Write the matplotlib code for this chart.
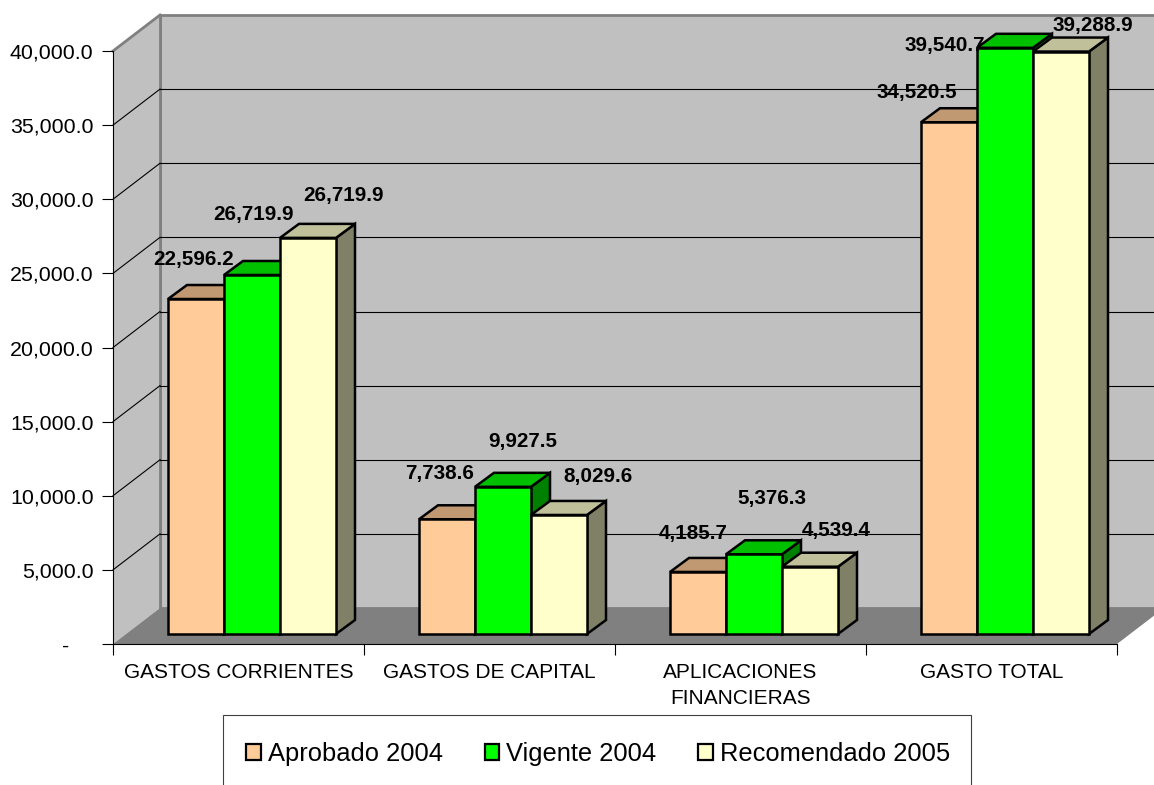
import matplotlib
matplotlib.use('Agg')
import matplotlib.pyplot as plt
from matplotlib.patches import Patch, Polygon, Rectangle

plt.rcParams['font.family'] = ['Liberation Sans', 'DejaVu Sans']

categories = ['GASTOS CORRIENTES', 'GASTOS DE CAPITAL', 'APLICACIONES\nFINANCIERAS', 'GASTO TOTAL']
series_names = ['Aprobado 2004', 'Vigente 2004', 'Recomendado 2005']

# bar heights as drawn in the picture
aprobado = [22596.2, 7738.6, 4185.7, 34520.5]
vigente = [24216.0, 9927.5, 5376.3, 39540.7]
recomendado = [26719.9, 8029.6, 4539.4, 39288.9]

# printed labels (the first green one does not agree with its bar in the original)
aprobado_labels = ['22,596.2', '7,738.6', '4,185.7', '34,520.5']
vigente_labels = ['26,719.9', '9,927.5', '5,376.3', '39,540.7']
recomendado_labels = ['26,719.9', '8,029.6', '4,539.4', '39,288.9']

y_ticks = [0, 5000, 10000, 15000, 20000, 25000, 30000, 35000, 40000]

front_colors = ['#FFCC99', '#00FF00', '#FFFFCC']
top_colors = ['#C09973', '#00C000', '#C0C09A']
side_colors = ['#806650', '#008000', '#808066']

# label offsets from the top centre of each bar, pixels
label_offsets = [
    [(-2, 40), (-7, 46), (-5, 38), (-32, 30)],
    [(1, 60), (20, 45), (18, 56), (-60, 2)],
    [(35, 42), (39, 38), (26, 36), (32, 26)],
]

W, H = 1154, 785
fig = plt.figure(figsize=(W / 100, H / 100), dpi=100)
ax = fig.add_axes([113 / W, 1 - 644 / H, 1004 / W, 593 / H])
ax.set_xlim(0, 4)
ax.set_ylim(0, 40000)
ax.patch.set_visible(False)

# pixel sizes to data units
px_x = 4 / 1004
px_y = 40000 / 593
wall_dx, wall_dy = 47 * px_x, 36 * px_y
bar_dx, bar_dy = 19 * px_x, 14 * px_y
base = 10 * px_y
bar_w = 56 * px_x
bar_start = 55 * px_x

# walls and floor
ax.add_patch(Polygon([(wall_dx, wall_dy), (4 + wall_dx, wall_dy), (4 + wall_dx, 40000 + wall_dy), (wall_dx, 40000 + wall_dy)],
                     fc='#C0C0C0', ec='#808080', lw=2.0, clip_on=False, zorder=1))
ax.add_patch(Polygon([(0, 0), (wall_dx, wall_dy), (wall_dx, 40000 + wall_dy), (0, 40000)],
                     fc='#C0C0C0', ec='none', clip_on=False, zorder=1))
ax.plot([0, wall_dx], [40000, 40000 + wall_dy], color='#808080', lw=2.0, clip_on=False, zorder=1.5)
ax.plot([wall_dx, wall_dx], [wall_dy, 40000 + wall_dy], color='#808080', lw=2.0, clip_on=False, zorder=1.5)
ax.add_patch(Polygon([(0, 0), (4, 0), (4 + wall_dx, wall_dy), (wall_dx, wall_dy)],
                     fc='#808080', ec='none', clip_on=False, zorder=2))

for v in y_ticks[1:-1]:
    ax.plot([0, wall_dx], [v, v + wall_dy], color='black', lw=0.8, clip_on=False, zorder=3)
    ax.plot([wall_dx, 4 + wall_dx], [v + wall_dy, v + wall_dy], color='black', lw=0.8, clip_on=False, zorder=3)

# bars, left to right so each one covers the side of the previous
all_values = [aprobado, vigente, recomendado]
all_labels = [aprobado_labels, vigente_labels, recomendado_labels]
z = 4
for g in range(len(categories)):
    for s, values in enumerate(all_values):
        x0 = g + bar_start + s * bar_w
        x1 = x0 + bar_w
        top = base + values[g]
        ax.add_patch(Polygon([(x1, base), (x1 + bar_dx, base + bar_dy), (x1 + bar_dx, top + bar_dy), (x1, top)],
                             fc=side_colors[s], ec='black', lw=1.8, joinstyle='miter', clip_on=False, zorder=z))
        ax.add_patch(Polygon([(x0, top), (x0 + bar_dx, top + bar_dy), (x1 + bar_dx, top + bar_dy), (x1, top)],
                             fc=top_colors[s], ec='black', lw=1.8, joinstyle='miter', clip_on=False, zorder=z))
        ax.bar(x0, values[g], width=bar_w, bottom=base, align='edge', color=front_colors[s],
               edgecolor='black', linewidth=1.8, clip_on=False, zorder=z)
        z += 1

for s, values in enumerate(all_values):
    for g, val in enumerate(values):
        ax.annotate(all_labels[s][g], (g + bar_start + (s + 0.5) * bar_w, base + val),
                    xytext=label_offsets[s][g], textcoords='offset pixels',
                    ha='center', va='center', fontsize=14.9, fontweight='bold',
                    annotation_clip=False, zorder=50)

# axes
for name in ['top', 'right']:
    ax.spines[name].set_visible(False)
for name in ['left', 'bottom']:
    ax.spines[name].set_linewidth(0.8)
    ax.spines[name].set_zorder(40)

ax.set_yticks(y_ticks)
ax.set_yticklabels(['-    '] + [f'{v:,.1f}' for v in y_ticks[1:]], fontsize=15.4)
ax.tick_params(axis='y', length=8, width=0.8, pad=6)
ax.set_xticks(range(5))
ax.set_xticklabels([])
ax.set_xticks([0.5, 1.5, 2.5, 3.5], minor=True)
ax.set_xticklabels(categories, minor=True, fontsize=15, linespacing=1.45)
ax.tick_params(axis='x', which='major', length=8, width=0.8)
ax.tick_params(axis='x', which='minor', length=0, pad=14)

# legend box runs off the bottom of the figure, so it is drawn apart from the legend
fig.add_artist(Rectangle((223 / W, 1 - 795 / H), 748 / W, 80 / H, transform=fig.transFigure,
                         fc='white', ec='#404040', lw=0.8, clip_on=False))
handles = [Patch(fc=c, ec='black', lw=1.6) for c in front_colors]
fig.legend(handles, series_names, loc='center', bbox_to_anchor=(598 / W, 1 - 754 / H), ncol=3,
           fontsize=18.4, frameon=False, handlelength=0.58, handleheight=0.58, handletextpad=0.27,
           columnspacing=1.64, borderaxespad=0, borderpad=0)

fig.savefig('out.png', dpi=100)
